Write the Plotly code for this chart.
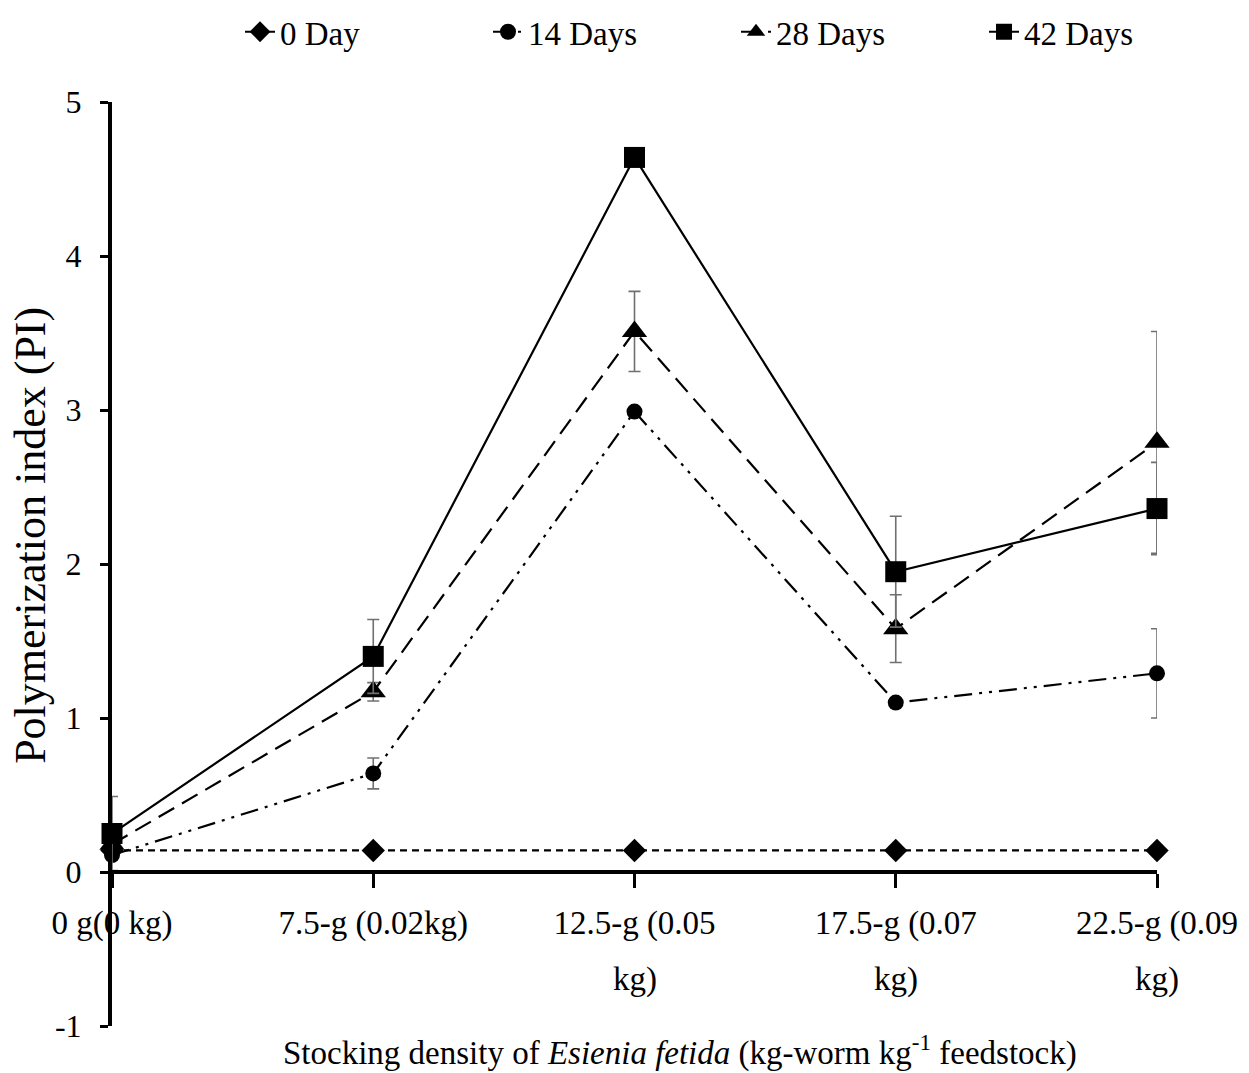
import plotly.graph_objects as go

# Stocking density categories (x) and polymerization index per sampling day
categories = ["0 g(0 kg)", "7.5-g (0.02kg)", "12.5-g (0.05<br>kg)",
              "17.5-g (0.07<br>kg)", "22.5-g (0.09<br>kg)"]
x_pos = [0, 1, 2, 3, 4]

day0 = [0.14, 0.14, 0.14, 0.14, 0.14]
day14 = [0.11, 0.64, 2.99, 1.10, 1.29]
day14_err = [0.0, 0.10, 0.0, 0.0, 0.29]
day28 = [0.18, 1.17, 3.51, 1.58, 2.79]
day28_err = [0.0, 0.06, 0.26, 0.22, 0.72]
day42 = [0.25, 1.40, 4.64, 1.95, 2.36]
day42_err = [0.24, 0.24, 0.0, 0.36, 0.30]

y_ticks = [-1, 0, 1, 2, 3, 4, 5]
y_ticktext = ["-1", "0", "1", "2", "3", "4", "5"]

FONT = "Liberation Serif"
ERR_COLOR = "#707070"

fig = go.Figure()


def add_series(name, y, err, symbol, msize, dash):
    err_cfg = dict(type="data", array=err, visible=True, color=ERR_COLOR,
                   thickness=1.6, width=6) if err is not None else None
    fig.add_trace(go.Scatter(
        x=x_pos, y=y, name=name, mode="lines+markers",
        line=dict(color="black", width=2.2, dash=dash),
        marker=dict(symbol=symbol, size=msize, color="black"),
        error_y=err_cfg, cliponaxis=False,
    ))


add_series("0 Day", day0, None, "diamond", 18, "7px,5px")
add_series("14 Days", day14, day14_err, "circle", 16, "18px,7px,3px,7px,3px,7px")
add_series("28 Days", day28, day28_err, "triangle-up", 22, "18px,9px")
add_series("42 Days", day42, day42_err, "square", 21, "solid")

# Category labels: first line on the axis, wrapped remainder placed lower
first_lines = [c.split("<br>")[0] for c in categories]
second_lines = [c.split("<br>")[1] if "<br>" in c else "" for c in categories]

fig.update_layout(
    width=1249, height=1073,
    margin=dict(l=112, r=92, t=102, b=47, autoexpand=False),
    paper_bgcolor="white", plot_bgcolor="white",
    font=dict(family=FONT, color="black", size=32),
    showlegend=True,
    legend=dict(orientation="h", x=0.1225, xanchor="left", y=1.076,
                yanchor="middle", font=dict(size=33), entrywidth=203,
                bgcolor="rgba(0,0,0,0)"),
    xaxis=dict(
        range=[0, 4], tickmode="array", tickvals=x_pos, ticktext=first_lines,
        showgrid=False, zeroline=False, showline=True, linecolor="black",
        linewidth=4, ticks="outside", ticklen=14, tickwidth=3,
        tickcolor="black", anchor="free", position=1 / 6,
        ticklabelstandoff=6,
        tickfont=dict(size=33, family=FONT),
    ),
    yaxis=dict(
        range=[-1, 5], tickmode="array", tickvals=y_ticks, ticktext=y_ticktext,
        showgrid=False, zeroline=False, showline=True, linecolor="black",
        linewidth=4, ticks="outside", ticklen=8, tickwidth=3,
        tickcolor="black", ticklabelstandoff=12,
        tickfont=dict(size=32, family=FONT),
    ),
)

for xv, txt in zip(x_pos, second_lines):
    if txt:
        fig.add_annotation(x=xv, y=-0.70, xref="x", yref="y", text=txt,
                           showarrow=False, xanchor="center", yanchor="middle",
                           font=dict(size=33, family=FONT))

# Axis titles
fig.add_annotation(
    x=0.5435, y=-0.026, xref="paper", yref="paper", showarrow=False,
    xanchor="center", yanchor="middle",
    text="Stocking density of <i>Esienia fetida</i> (kg-worm kg<sup>-1</sup> feedstock)",
    font=dict(size=33, family=FONT),
)
fig.add_annotation(
    x=-0.078, y=0.531, xref="paper", yref="paper", showarrow=False,
    xanchor="center", yanchor="middle", textangle=-90,
    text="Polymerization index (PI)",
    font=dict(size=44, family=FONT),
)

fig.write_html("out.html")
